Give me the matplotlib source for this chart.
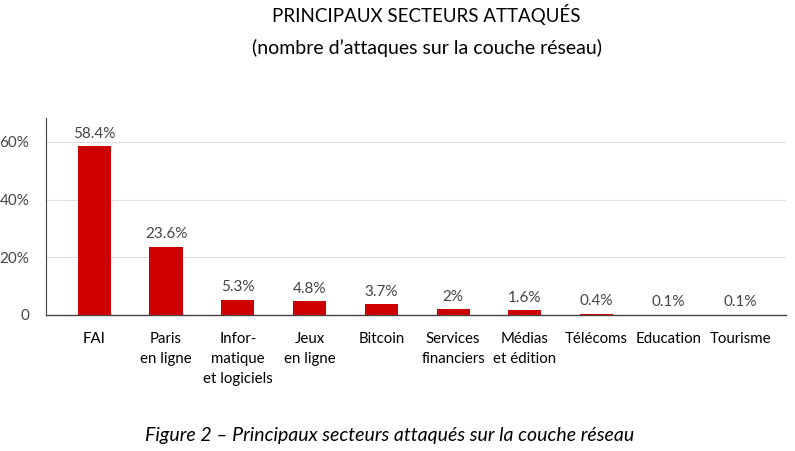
import matplotlib.pyplot as plt

secteurs = ["FAI", "Paris\nen ligne", "Infor-\nmatique\net logiciels", "Jeux\nen ligne",
            "Bitcoin", "Services\nfinanciers", "Médias\net édition", "Télécoms",
            "Education", "Tourisme"]
valeurs = [58.4, 23.6, 5.3, 4.8, 3.7, 2.0, 1.6, 0.4, 0.1, 0.1]
etiquettes = ["58.4%", "23.6%", "5.3%", "4.8%", "3.7%", "2%", "1.6%", "0.4%", "0.1%", "0.1%"]
yticks = [0, 20, 40, 60]
ytick_labels = ["0", "20%", "40%", "60%"]

fig = plt.figure(figsize=(7.95, 4.51), dpi=100)
ax = fig.add_axes([0.058, 0.3016, 0.931, 0.437])

x = range(len(secteurs))
ax.bar(x, valeurs, width=0.46, color="#cc0000", zorder=3)

for i, (v, lab) in enumerate(zip(valeurs, etiquettes)):
    ax.annotate(lab, (i, v), xytext=(0, 4), textcoords="offset points",
                ha="center", va="bottom", fontsize=11, color="#444444", family="Lato")

ax.set_xlim(-0.67, 9.64)
ax.set_ylim(0, 68.3)
ax.set_yticks(yticks)
ax.set_yticklabels(ytick_labels, fontsize=11, color="#444444", family="Lato")
ax.set_xticks(list(x))
ax.set_xticklabels(secteurs, fontsize=10.8, family="Lato", linespacing=1.55, va="top")
ax.tick_params(axis="both", length=0)
ax.tick_params(axis="x", pad=12)
ax.tick_params(axis="y", pad=12)
ax.grid(axis="y", color="#dddddd", linewidth=0.8, zorder=0)

for s in ["top", "right"]:
    ax.spines[s].set_visible(False)
ax.spines["left"].set_color("#444444")
ax.spines["bottom"].set_color("#444444")
ax.spines["left"].set_linewidth(0.8)
ax.spines["bottom"].set_linewidth(1.0)

fig.text(0.536, 0.968, "PRINCIPAUX SECTEURS ATTAQUÉS", ha="center", va="center",
         fontsize=13.5, family="Lato")
fig.text(0.537, 0.893, "(nombre d’attaques sur la couche réseau)", ha="center", va="center",
         fontsize=14, family="Lato")
fig.text(0.49, 0.035, "Figure 2 – Principaux secteurs attaqués sur la couche réseau",
         ha="center", va="center", fontsize=14, style="italic", family="Lato")

fig.savefig("out.png", dpi=100)
